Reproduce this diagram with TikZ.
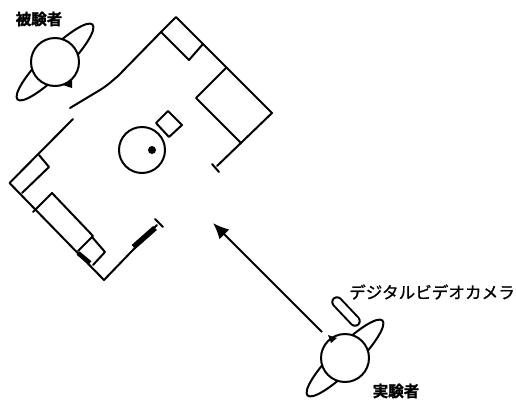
\documentclass[tikz,border=0pt]{standalone}
\usepackage{fontspec}
\newfontfamily\cjk[FakeBold=0.9]{Noto Sans CJK JP}
\newfontfamily\cjkb[FakeBold=1.6]{Noto Sans CJK JP Bold}
\usetikzlibrary{arrows.meta}
\tikzset{
  wall/.style={line width=2pt,line join=round,line cap=round},
  thickbar/.style={line width=5.5pt,line cap=butt},
  arm/.style={line width=2pt,fill=white},
  lab/.style={inner sep=0pt,text=black},
  nose/.style={fill=black,draw=none}
}
\begin{document}
\begin{tikzpicture}[x=1pt,y=-1pt]
\useasboundingbox (0,0) rectangle (516,399);
% walls
\draw[wall] (70,108) -- (100,90) .. controls (108,85) and (112,81) .. (118,76) -- (161,32) -- (176,17) -- (272,113) -- (217,166);
\draw[wall] (212,164) -- (219,172);
\draw[wall] (73,119) -- (9.5,183) -- (104,280) -- (157,225);
\draw[wall] (155,219) -- (163,227);
\draw[thickbar] (133.5,247) -- (155,228);
\draw[line width=4.5pt] (78,253) -- (90,263);
% furniture
\draw[wall] (161,32) -- (189,60) -- (203,44);
\draw[wall] (226,68) -- (196,98) -- (241,143);
\draw[wall] (39,155) -- (49,167) -- (22,193);
\draw[wall] (33,212) -- (52,193) -- (93,236) -- (78,251);
\draw[wall] (92,237) -- (105,252) -- (93,265);
\draw[wall] (168,111) -- (182,125) -- (169,137) -- (156,123) -- cycle;
\node[draw,circle,line width=2pt,minimum size=46pt,inner sep=0pt] (tbl) at (142,150) {};
\fill (152,150) circle (4);
% subject
\draw[arm,rotate around={45:(55,62)}] (55,62) ellipse [x radius=53,y radius=12];
\node[circle,draw,fill=white,line width=2pt,minimum size=48pt,inner sep=0pt] (subj) at (55,62) {};
\fill[nose] (72,80) -- (63,85) -- (72,88) -- cycle;
% experimenter
\draw[arm,rotate around={45:(345,358)}] (345,358) ellipse [x radius=53,y radius=12];
\node[circle,draw,fill=white,line width=2pt,minimum size=48pt,inner sep=0pt] (expr) at (345,358) {};
\fill[nose] (328,335) -- (337,338) -- (331,343) -- cycle;
% camera
\draw[line width=11.5pt,line cap=round] (337,302) -- (355,321);
\draw[line width=7.5pt,line cap=round,white] (337,302) -- (355,321);
% arrow
\coordinate (from) at (322,332);
\coordinate (to) at (213,223);
\draw[line width=2pt,-{Latex[length=16pt,width=14pt]}] (from) -- (to);
% labels
\node[lab,font=\cjkb\fontsize{15.5}{15}\selectfont] (l1) at (39,19) {被験者};
\node[lab,font=\cjk\fontsize{16.6}{17}\selectfont] (l2) at (432,292) {デジタルビデオカメラ};
\node[lab,font=\cjkb\fontsize{15.5}{15}\selectfont] (l3) at (396,391) {実験者};
\end{tikzpicture}
\end{document}
